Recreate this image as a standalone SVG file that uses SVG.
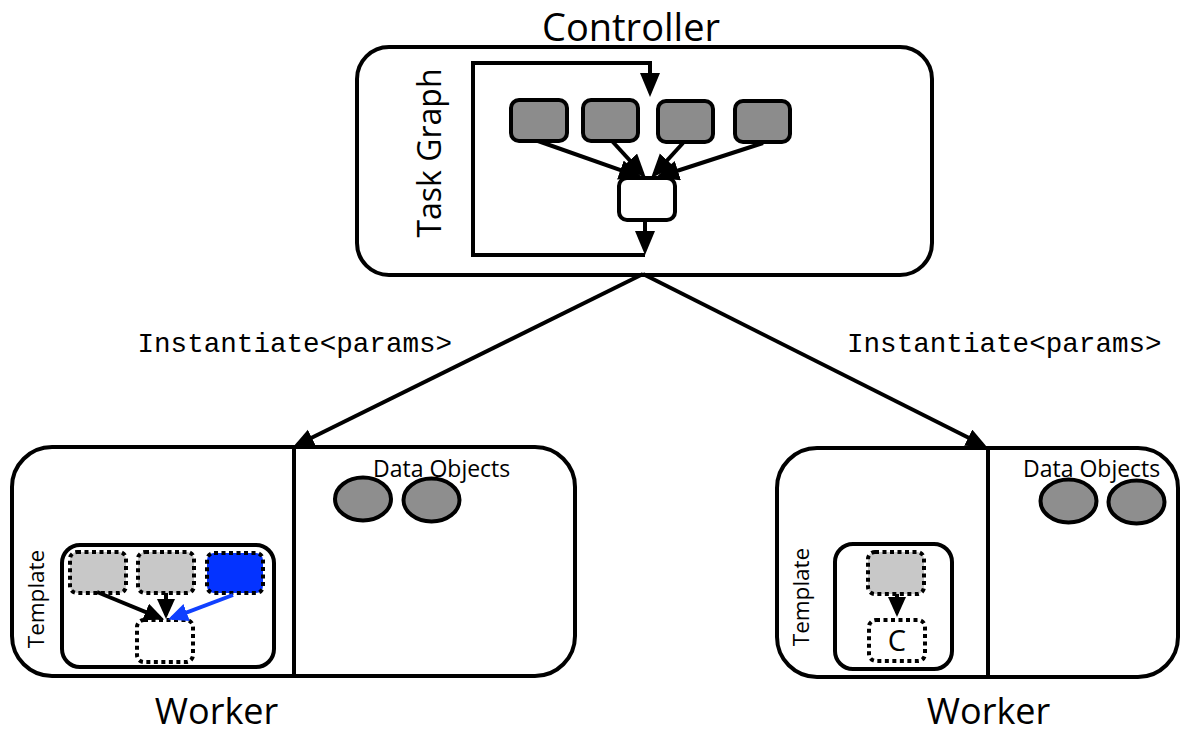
<svg xmlns="http://www.w3.org/2000/svg" width="1181" height="733" viewBox="0 0 1181 733">
  <style>
    .box { fill: #ffffff; stroke: #000000; stroke-width: 4; }
    .task { fill: #8c8c8c; stroke: #000000; stroke-width: 4; }
    .obj { fill: #8e8e8e; stroke: #000000; stroke-width: 4; }
    .dot { stroke: #000000; stroke-width: 4; stroke-dasharray: 4 3.5; }
    .edge { fill: none; stroke: #000000; stroke-width: 4; }
    .blue-edge { fill: none; stroke: #1040ff; stroke-width: 4; }
    .sans { font-family: "Open Sans", "Liberation Sans", sans-serif; fill: #000000; }
    .mono { font-family: "Liberation Mono", "Courier New", monospace; font-size: 27.6px; fill: #000000; }
  </style>
  <defs>
    <marker id="head-lg" markerUnits="userSpaceOnUse" markerWidth="22" markerHeight="19" refX="16" refY="9" orient="auto">
      <path d="M0,0 L21,9 L0,18 z" fill="#000000"/>
    </marker>
    <marker id="head-md" markerUnits="userSpaceOnUse" markerWidth="25" markerHeight="21" refX="19" refY="10" orient="auto">
      <path d="M0,0 L24,10 L0,20 z" fill="#000000"/>
    </marker>
    <marker id="head-sm" markerUnits="userSpaceOnUse" markerWidth="21" markerHeight="19" refX="16" refY="9" orient="auto">
      <path d="M0,0 L20,9 L0,18 z" fill="#000000"/>
    </marker>
    <marker id="head-sm-blue" markerUnits="userSpaceOnUse" markerWidth="21" markerHeight="19" refX="16" refY="9" orient="auto">
      <path d="M0,0 L20,9 L0,18 z" fill="#1040ff"/>
    </marker>
  </defs>

  <!-- Controller node with its task graph -->
  <g id="controller">
    <text class="sans" x="631" y="41" font-size="38" text-anchor="middle">Controller</text>
    <rect class="box" x="357" y="47" width="575" height="228" rx="32"/>
    <text class="sans" font-size="32" text-anchor="middle" transform="translate(441,153) rotate(-90)">Task Graph</text>
    <g id="task-1"><rect class="task" x="511" y="100" width="56" height="41" rx="8"/></g>
    <g id="task-2"><rect class="task" x="583" y="100" width="55" height="41" rx="8"/></g>
    <g id="task-3"><rect class="task" x="658" y="101" width="55" height="41" rx="8"/></g>
    <g id="task-4"><rect class="task" x="735" y="101" width="55" height="41" rx="8"/></g>
    <g id="task-join"><rect class="box" x="619" y="178" width="56" height="42" rx="8"/></g>
  </g>

  <!-- Worker on the left -->
  <g id="worker-left">
    <rect class="box" x="12" y="447" width="563" height="229" rx="40"/>
    <line class="edge" x1="294" y1="447" x2="294" y2="676"/>
    <text class="sans" x="373" y="477" font-size="23">Data Objects</text>
    <ellipse class="obj" cx="363" cy="499" rx="28" ry="21.5"/>
    <ellipse class="obj" cx="431.5" cy="500" rx="28" ry="21.5"/>
    <text class="sans" font-size="22.5" text-anchor="middle" transform="translate(44,599) rotate(-90)">Template</text>
    <g id="template-left">
      <rect class="box" x="62" y="545" width="212" height="122" rx="18"/>
      <rect class="dot" fill="#c8c8c8" x="70" y="552" width="56" height="41" rx="7"/>
      <rect class="dot" fill="#c8c8c8" x="138" y="552" width="56" height="41" rx="7"/>
      <rect class="dot" fill="#0433ff" x="207" y="553" width="56" height="40" rx="7"/>
      <rect class="dot" fill="#ffffff" x="137" y="620" width="56" height="42" rx="7"/>
    </g>
    <text class="sans" x="216.5" y="724" font-size="36" text-anchor="middle">Worker</text>
  </g>

  <!-- Worker on the right -->
  <g id="worker-right">
    <rect class="box" x="777" y="448" width="401" height="229" rx="40"/>
    <line class="edge" x1="988" y1="448" x2="988" y2="677"/>
    <text class="sans" x="1023" y="477" font-size="23">Data Objects</text>
    <ellipse class="obj" cx="1068.5" cy="501" rx="28" ry="21.5"/>
    <ellipse class="obj" cx="1136.5" cy="502" rx="28" ry="21.5"/>
    <text class="sans" font-size="22.5" text-anchor="middle" transform="translate(809,597) rotate(-90)">Template</text>
    <g id="template-right">
      <rect class="box" x="835" y="544" width="117" height="125" rx="18"/>
      <rect class="dot" fill="#c8c8c8" x="868" y="552" width="56" height="42" rx="7"/>
      <rect class="dot" fill="#ffffff" x="869" y="620" width="56" height="41" rx="7"/>
      <text class="sans" x="897" y="651" font-size="29" text-anchor="middle">C</text>
    </g>
    <text class="sans" x="988.5" y="724" font-size="36" text-anchor="middle">Worker</text>
  </g>

  <!-- Connectors -->
  <g id="connectors">
    <!-- task graph loop back to the top -->
    <path class="edge" d="M645,255 L473,255 L473,63 L650,63 L650,92" marker-end="url(#head-md)"/>
    <line class="edge" x1="645" y1="220" x2="645" y2="250" marker-end="url(#head-md)"/>
    <line class="edge" x1="538" y1="141" x2="638.3" y2="176.3" marker-end="url(#head-md)"/>
    <line class="edge" x1="612" y1="141" x2="642.6" y2="174.3" marker-end="url(#head-md)"/>
    <line class="edge" x1="683" y1="143" x2="654.4" y2="174.3" marker-end="url(#head-md)"/>
    <line class="edge" x1="763" y1="143" x2="659.8" y2="176.5" marker-end="url(#head-md)"/>

    <!-- controller to workers -->
    <line class="edge" x1="643" y1="274" x2="297.5" y2="444.8" marker-end="url(#head-lg)"/>
    <line class="edge" x1="643" y1="274" x2="982.5" y2="444.8" marker-end="url(#head-lg)"/>
    <text class="mono" x="137.5" y="352">Instantiate&lt;params&gt;</text>
    <text class="mono" x="847" y="352">Instantiate&lt;params&gt;</text>

    <!-- template edges -->
    <line class="edge" x1="97" y1="592" x2="160.4" y2="618.1" marker-end="url(#head-sm)"/>
    <line class="edge" x1="166" y1="593" x2="166" y2="615" marker-end="url(#head-sm)"/>
    <line class="blue-edge" x1="233" y1="595" x2="171.7" y2="618.2" marker-end="url(#head-sm-blue)"/>
    <line class="edge" x1="897" y1="594" x2="897" y2="613" marker-end="url(#head-sm)"/>
  </g>
</svg>
